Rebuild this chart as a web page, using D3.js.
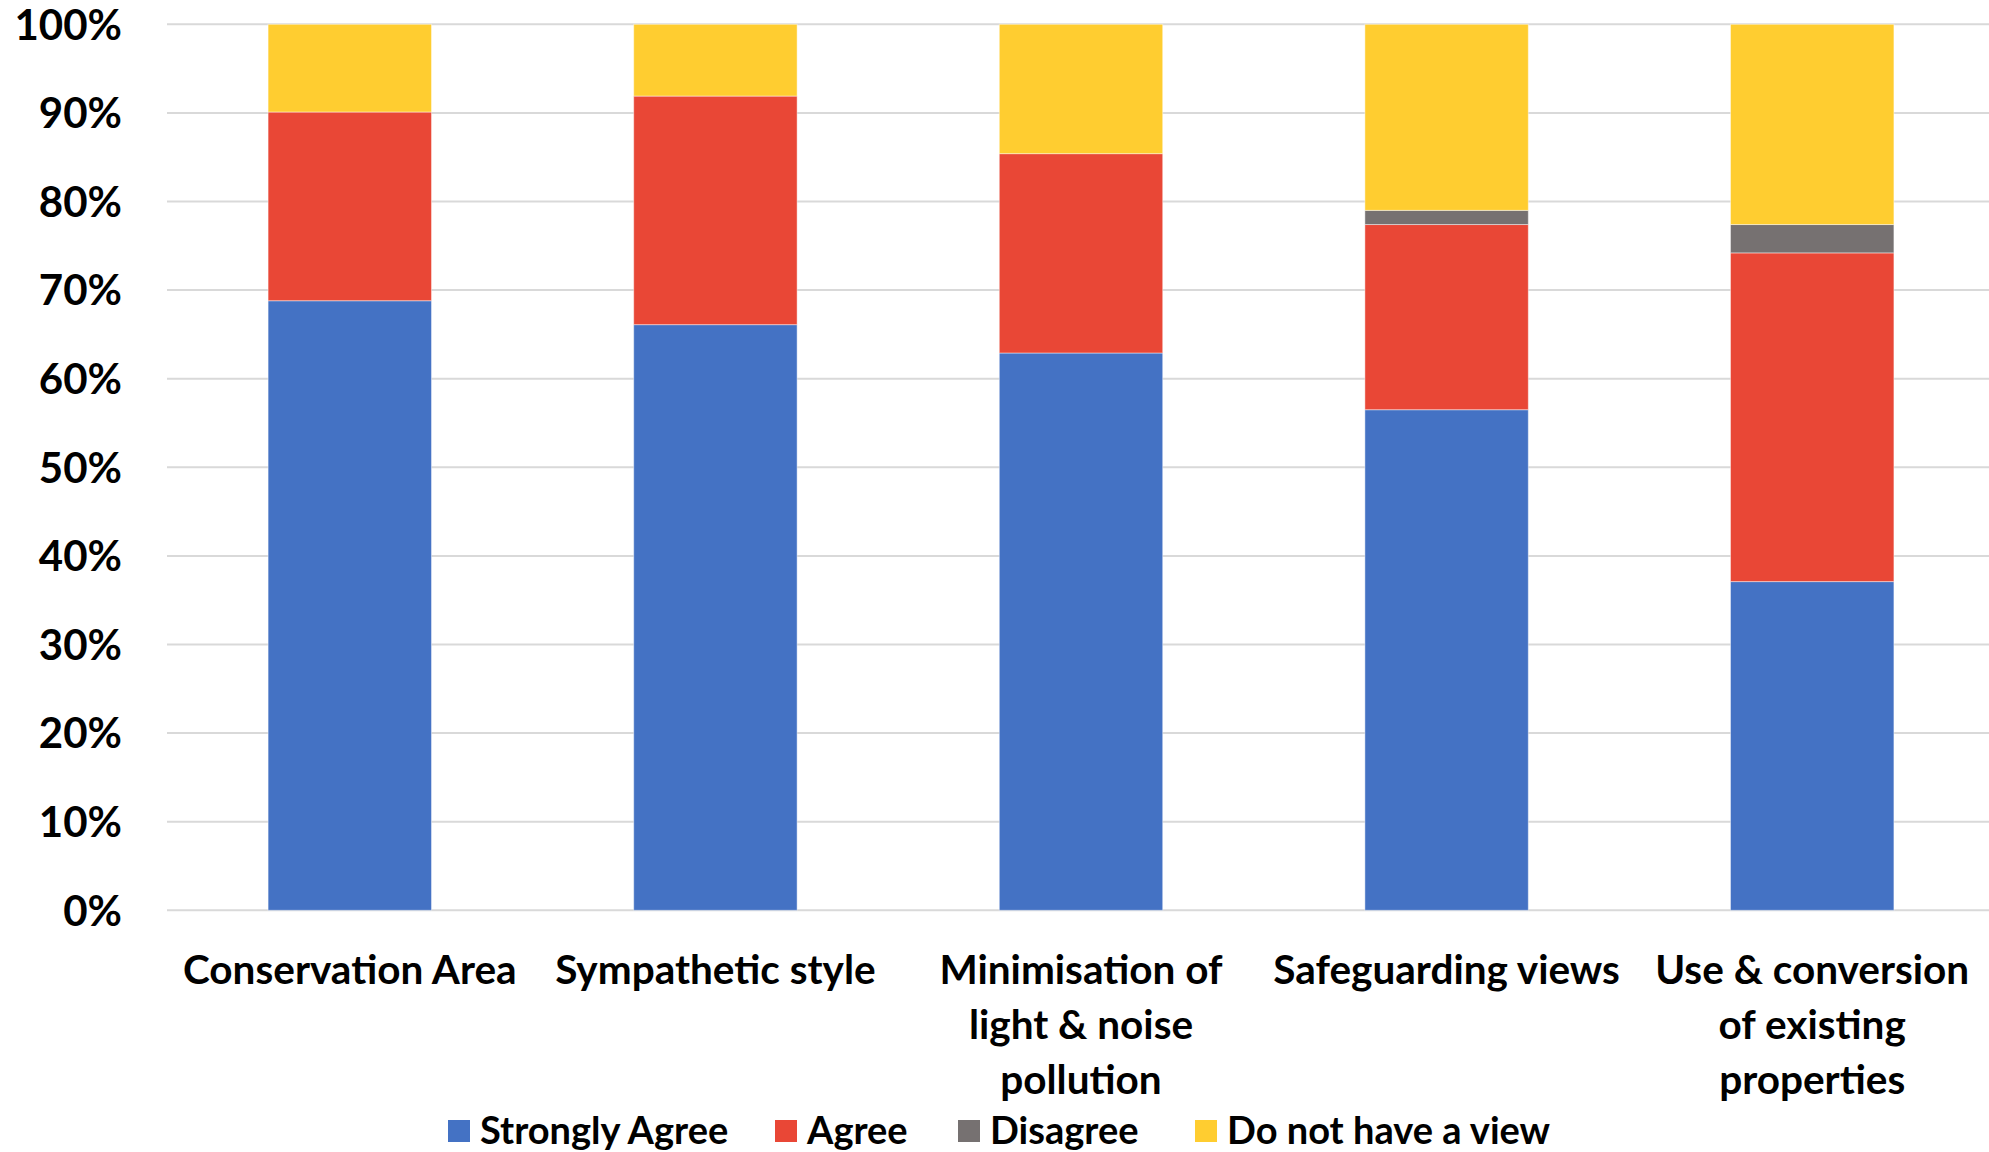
<!DOCTYPE html>
<html><head><meta charset="utf-8">
<script src="https://cdn.jsdelivr.net/npm/d3@7"></script>
<style>html,body{margin:0;padding:0;background:#fff;} svg{display:block;}</style>
</head><body>
<script>
const categories = ["Conservation Area","Sympathetic style","Minimisation of light & noise pollution","Safeguarding views","Use & conversion of existing properties"];
const categoryLines = [["Conservation Area"],["Sympathetic style"],["Minimisation of","light & noise","pollution"],["Safeguarding views"],["Use & conversion","of existing","properties"]];
const seriesNames = ["Strongly Agree","Agree","Disagree","Do not have a view"];
const stronglyAgree = [68.8, 66.1, 62.9, 56.5, 37.1];
const agree = [21.3, 25.8, 22.5, 20.9, 37.1];
const disagree = [0, 0, 0, 1.6, 3.2];
const noView = [9.9, 8.1, 14.6, 21.0, 22.6];
const yTicks = [0,10,20,30,40,50,60,70,80,90,100];
const colors = ["#4472C4","#E94736","#767171","#FFCD30"];

const W = 1989, H = 1152;
const margin = {left:167, top:24.3, bottom:H-910.3};
const bandRight = 1995;
const font = "Lato, 'Open Sans', sans-serif";

const rows = categories.map((c,i)=>({cat:c, "Strongly Agree":stronglyAgree[i], "Agree":agree[i], "Disagree":disagree[i], "Do not have a view":noView[i]}));
const stack = d3.stack().keys(seriesNames)(rows);

const svg = d3.select("body").append("svg").attr("width",W).attr("height",H);
const x = d3.scaleBand().domain(categories).range([margin.left, bandRight]).paddingInner(0.553).paddingOuter(0.2765);
const y = d3.scaleLinear().domain([0,100]).range([H-margin.bottom, margin.top]);

// gridlines
svg.append("g").selectAll("line").data(yTicks).join("line")
  .attr("x1",margin.left).attr("x2",W)
  .attr("y1",d=>y(d)).attr("y2",d=>y(d))
  .attr("stroke","#D9D9D9").attr("stroke-width",2);

// y axis labels
const yAxis = d3.axisLeft(y).tickValues(yTicks).tickFormat(d=>d+"%").tickSize(0).tickPadding(0);
const ya = svg.append("g").attr("transform","translate(122,0)").call(yAxis);
ya.select(".domain").remove();
ya.selectAll("text").attr("font-family",font).attr("font-weight","bold").attr("font-size",42).attr("fill","#000").attr("dy","0.35em");

// bars
svg.append("g").selectAll("g").data(stack).join("g").attr("fill",(d,i)=>colors[i])
  .selectAll("rect").data(d=>d).join("rect")
  .attr("x",d=>x(d.data.cat)).attr("width",x.bandwidth())
  .attr("y",d=>y(d[1])).attr("height",d=>Math.max(0,y(d[0])-y(d[1])))
  .attr("stroke","rgba(255,255,255,0.45)").attr("stroke-width",d=>(d[1]-d[0])>0?1:0);

// category labels
const xl = svg.append("g");
categories.forEach((c,i)=>{
  const cx = x(c)+x.bandwidth()/2;
  const t = xl.append("text").attr("x",cx).attr("y",984)
    .attr("text-anchor","middle").attr("font-family",font).attr("font-weight","bold").attr("font-size",40.5).attr("fill","#000");
  categoryLines[i].forEach((ln,j)=>t.append("tspan").attr("x",cx).attr("y",984+j*55).text(ln));
});

// legend
const legendX = [448, 775, 958, 1195];
const lg = svg.append("g");
seriesNames.forEach((s,i)=>{
  lg.append("rect").attr("x",legendX[i]).attr("y",1120).attr("width",22).attr("height",22).attr("fill",colors[i]);
  lg.append("text").attr("x",legendX[i]+32).attr("y",1144).attr("font-family",font).attr("font-weight","bold").attr("font-size",38).attr("fill","#000").text(s);
});
</script>
</body></html>
